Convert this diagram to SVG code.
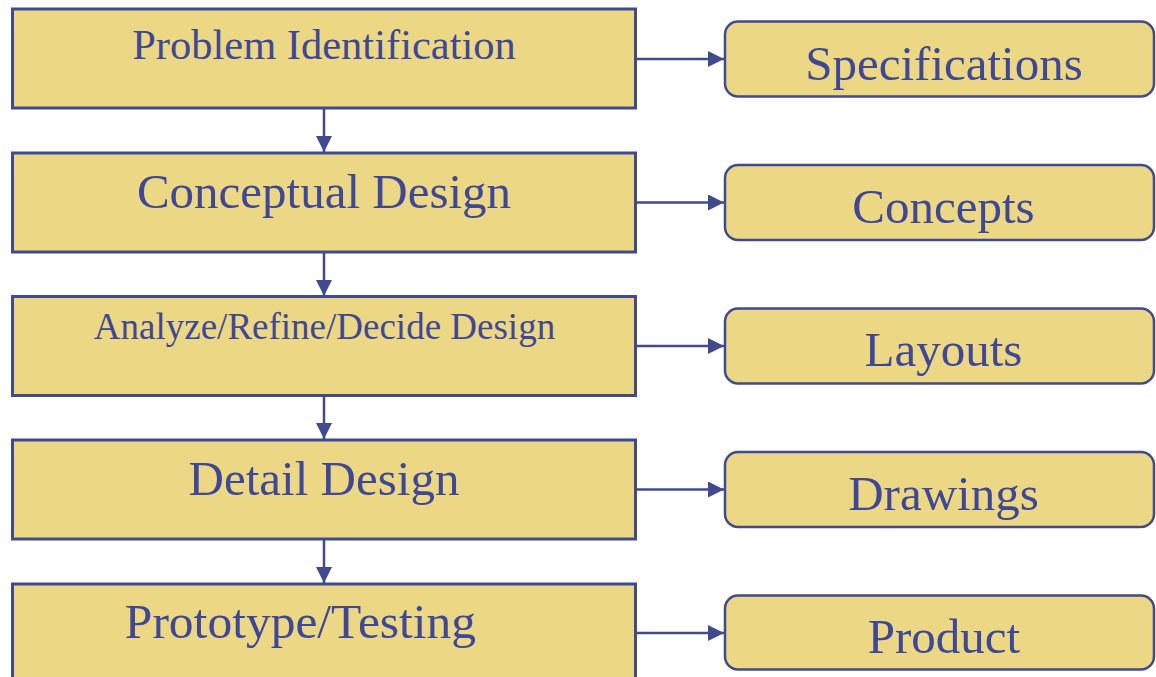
<svg xmlns="http://www.w3.org/2000/svg" width="1156" height="677" viewBox="0 0 1156 677">
<style>
.box{fill:#EBD784;stroke:#414A8F;stroke-width:3}
.rbox{fill:#EBD784;stroke:#414A8F;stroke-width:2.5}
.t{font-family:"Liberation Serif","Times New Roman",serif;fill:#3F4896;text-anchor:middle}
.c{stroke:#414A8F;stroke-width:2.5;fill:none}
</style>
<defs>
<marker id="ah" markerUnits="userSpaceOnUse" markerWidth="17" markerHeight="17" refX="16" refY="8" orient="auto">
<path d="M0,0 L16,8 L0,16 Z" fill="#414A8F"/>
</marker>
</defs>
<g id="connectors">
<line class="c" x1="324" y1="109" x2="324" y2="152" marker-end="url(#ah)"/>
<line class="c" x1="324" y1="252" x2="324" y2="296" marker-end="url(#ah)"/>
<line class="c" x1="324" y1="396" x2="324" y2="439" marker-end="url(#ah)"/>
<line class="c" x1="324" y1="539" x2="324" y2="583" marker-end="url(#ah)"/>
<line class="c" x1="636" y1="59" x2="724" y2="59" marker-end="url(#ah)"/>
<line class="c" x1="636" y1="202.5" x2="724" y2="202.5" marker-end="url(#ah)"/>
<line class="c" x1="636" y1="346" x2="724" y2="346" marker-end="url(#ah)"/>
<line class="c" x1="636" y1="489.5" x2="724" y2="489.5" marker-end="url(#ah)"/>
<line class="c" x1="636" y1="633" x2="724" y2="633" marker-end="url(#ah)"/>
</g>
<g id="n1"><rect class="box" x="12.5" y="9" width="623" height="99"/><text class="t" x="324" y="59" font-size="42.5">Problem Identification</text></g>
<g id="n2"><rect class="box" x="12.5" y="153" width="623" height="99"/><text class="t" x="324" y="208" font-size="49">Conceptual Design</text></g>
<g id="n3"><rect class="box" x="12.5" y="296.5" width="623" height="99"/><text class="t" x="324.5" y="339" font-size="37">Analyze/Refine/Decide Design</text></g>
<g id="n4"><rect class="box" x="12.5" y="440" width="623" height="99"/><text class="t" x="324" y="495" font-size="49">Detail Design</text></g>
<g id="n5"><rect class="box" x="12.5" y="584" width="623" height="99"/><text class="t" x="300.5" y="638" font-size="49.5">Prototype/Testing</text></g>
<g id="r1"><rect class="rbox" x="725" y="21.5" width="429" height="75" rx="13"/><text class="t" x="944" y="80" font-size="49">Specifications</text></g>
<g id="r2"><rect class="rbox" x="725" y="165" width="429" height="75" rx="13"/><text class="t" x="943.5" y="223" font-size="49">Concepts</text></g>
<g id="r3"><rect class="rbox" x="725" y="308.5" width="429" height="75" rx="13"/><text class="t" x="943.5" y="366" font-size="49">Layouts</text></g>
<g id="r4"><rect class="rbox" x="725" y="452" width="429" height="75" rx="13"/><text class="t" x="943.5" y="510" font-size="49">Drawings</text></g>
<g id="r5"><rect class="rbox" x="725" y="595.5" width="429" height="74" rx="13"/><text class="t" x="944" y="653" font-size="49">Product</text></g>
</svg>
